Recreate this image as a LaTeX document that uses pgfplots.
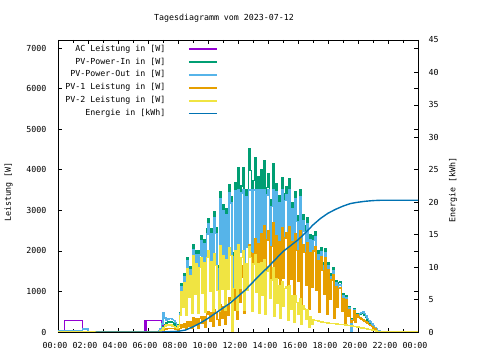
\documentclass[border=0pt]{standalone}
\usepackage{fontspec}
\usepackage{pgfplots}
\usepackage{pgfplotstable}
\pgfplotsset{compat=1.18}
\newfontfamily\gp{DejaVu Sans Mono}
\newcommand{\gpf}{\gp\fontsize{8.3bp}{10bp}\selectfont}
\definecolor{cac}{HTML}{9400D3}
\definecolor{cin}{HTML}{009E73}
\definecolor{cout}{HTML}{56B4E9}
\definecolor{cpa}{HTML}{E69F00}
\definecolor{cpb}{HTML}{F0E442}
\definecolor{cen}{HTML}{0072B2}
\pgfplotstableread{
t ac in out pa pb
0.00 0 0 25 0 0
0.42 280 0 25 0 0
1.62 0 0 70 0 0
2.00 0 0 10 0 0
5.75 280 0 10 0 0
5.83 40 0 10 0 0
5.92 280 0 10 0 0
6.70 280 0 30 0 0
6.80 280 20 80 10 20
6.90 0 60 200 30 50
7.0 470 120 470 50 100
7.1 350 180 350 60 150
7.2 300 220 300 70 170
7.3 320 250 320 80 180
7.4 330 260 330 80 170
7.5 340 250 340 90 180
7.6 310 240 310 90 150
7.7 280 200 280 80 130
7.8 230 150 230 70 110
7.9 160 120 160 80 100
8.0 166 175 166 38 150
8.1 447 470 447 85 400
8.2 1121 1180 1121 190 1000
8.3 675 710 675 105 600
8.4 1357 1428 1357 198 1204
8.5 451 475 451 63 400
8.6 1751 1843 1751 257 1568
8.7 941 990 941 145 850
8.8 1535 1616 1535 248 1400
8.9 489 515 489 83 450
9.0 2035 2142 2035 357 1887
9.1 1031 1085 1031 180 930
9.2 1915 2016 1915 333 1683
9.3 549 578 549 95 470
9.4 1899 1999 1899 328 1588
9.5 2258 2377 2258 388 1843
9.6 1197 1260 1197 210 960
9.7 2165 2279 2165 387 1707
9.8 632 665 632 115 490
9.9 2412 2539 2412 446 1841
10.0 2660 2800 2660 500 2000
10.1 1368 1440 1368 260 1005
10.2 2419 2546 2419 464 1737
10.3 722 760 722 140 508
10.4 2816 2964 2816 551 1938
10.5 2432 2560 2432 480 1640
10.6 1549 1630 1549 310 1030
10.7 789 830 789 160 518
10.8 3276 3448 3276 673 2122
10.9 1634 1720 1634 340 1045
11.0 2993 3150 2993 630 1890
11.1 846 890 846 185 528
11.2 2889 3041 2889 655 1781
11.3 1748 1840 1748 410 1065
11.4 3447 3628 3447 834 2076
11.5 3177 3344 3177 792 1892
11.6 600 0 0 0 0
11.7 1853 1950 1853 530 1075
11.8 3490 3674 3490 1060 2000
11.9 950 1000 950 305 538
12.0 3500 4050 3500 1300 2150
12.1 1957 2060 1957 720 1070
12.2 3423 3603 3423 1359 1832
12.3 3500 4047 3500 1634 2014
12.4 1029 1083 1029 465 528
12.5 3344 3520 3344 1600 1680
12.6 2095 2205 2095 1030 1040
12.7 3500 4508 3500 2162 2101
12.8 3500 3987 3500 1962 1836
12.9 1055 1110 1055 560 505
13.0 3500 3738 3500 1932 1680
13.1 3500 4287 3500 2289 1911
13.2 2085 2195 2085 1210 970
13.3 3500 3837 3500 2182 1681
13.4 1028 1083 1028 635 470
13.5 3500 3999 3500 2418 1721
13.6 2024 2130 2024 1305 910
13.7 3500 4220 3500 2620 1790
13.8 993 1045 993 658 440
13.9 3382 3560 3382 2270 1488
14.0 3500 3895 3500 2508 1615
14.1 1943 2045 1943 1320 825
14.2 3101 3264 3101 2112 1280
14.3 3500 4151 3500 2693 1581
14.4 964 1015 964 660 375
14.5 3463 3645 3463 2376 1305
14.6 1910 2010 1910 1320 705
14.7 3184 3352 3184 2218 1151
14.8 941 990 941 660 333
14.9 3500 3812 3500 2561 1251
15.0 1853 1950 1853 1320 625
15.1 3236 3406 3236 2314 1074
15.2 3392 3571 3392 2437 1107
15.3 905 953 905 653 290
15.4 3500 3780 3500 2605 1130
15.5 1781 1875 1781 1300 550
15.6 3031 3191 3031 2219 903
15.7 872 918 872 640 250
15.8 3276 3449 3276 2413 903
15.9 2728 2872 2728 2016 720
16.0 1686 1775 1686 1250 425
16.1 3333 3509 3333 2509 816
16.2 791 833 791 605 190
16.3 2753 2898 2753 2142 639
16.4 2482 2612 2482 1966 563
16.5 1425 1500 1425 1150 310
16.6 2682 2823 2682 2202 543
16.7 670 705 670 560 123
16.8 2282 2402 2282 1945 378
16.9 1254 1320 1254 1090 180
17.0 2253 2372 2253 2000 300
17.1 2356 2480 2356 2110 290
17.2 1145 1205 1145 1035 280
17.3 1912 2012 1912 1746 270
17.4 539 568 539 498 260
17.5 1986 2090 1986 1853 250
17.6 1626 1712 1626 1520 245
17.7 988 1040 988 925 240
17.8 1957 2060 1957 1836 235
17.9 466 490 466 438 225
18.0 1625 1710 1625 1530 220
18.1 860 905 860 810 215
18.2 1373 1445 1373 1285 210
18.3 1502 1581 1502 1407 210
18.4 366 385 366 340 205
18.5 1212 1276 1212 1126 200
18.6 656 690 656 610 195
18.7 1157 1218 1157 1070 190
18.8 1178 1240 1178 1090 190
18.9 556 585 556 510 185
19.0 899 946 899 826 180
19.1 242 255 242 223 175
19.2 848 893 848 789 170
19.3 409 430 409 380 160
19.4 593 624 593 552 155
19.5 250 300 0 250 150
19.6 304 320 304 285 145
19.7 551 580 551 520 140
19.8 247 260 247 235 130
19.9 437 460 437 420 125
20.0 400 420 400 370 120
20.1 450 430 450 345 110
20.2 480 450 480 320 100
20.3 490 460 490 300 95
20.4 450 420 450 275 85
20.5 390 360 390 250 80
20.6 340 300 340 220 70
20.7 290 250 290 190 60
20.8 250 200 250 160 55
20.9 200 150 200 130 45
21.0 150 100 150 100 40
21.1 110 60 110 70 30
21.2 70 30 70 40 20
21.3 40 10 40 10 10
21.4 20 0 20 0 0
21.5 10 0 10 0 0
24.0 10 0 10 0 0
}\pw
\pgfplotstableread{
t e
2.5 0
7.0 0
7.5 0.05
8.0 0.1
8.5 0.3
9.0 0.8
9.5 1.4
10.0 2.1
10.5 2.9
11.0 3.7
11.5 4.5
12.0 5.5
12.5 6.5
13.0 7.7
13.5 8.9
14.0 10.0
14.5 11.2
15.0 12.4
15.5 13.3
16.0 14.2
16.5 15.3
17.0 16.5
17.5 17.5
18.0 18.3
18.5 18.9
19.0 19.4
19.5 19.8
20.0 20.0
20.5 20.15
21.0 20.25
21.5 20.3
24.0 20.3
}\en
\begin{document}
\begin{tikzpicture}
\useasboundingbox (-58bp,-28bp) rectangle (422bp,332bp);
\begin{axis}[
  at={(0,0)}, anchor=south west,
  scale only axis, width=360bp, height=292bp,
  xmin=0, xmax=24, ymin=0, ymax=7200,
  xtick={0,2,...,24},
  xticklabels={00:00,02:00,04:00,06:00,08:00,10:00,12:00,14:00,16:00,18:00,20:00,22:00,00:00},
  minor xtick={1,3,...,23},
  ytick={0,1000,...,7000},
  tick align=inside,
  major tick length=4bp, minor tick length=3bp,
  xtick pos=both, ytick pos=both,
  axis line style={line width=0.8bp},
  every tick/.style={black, line width=0.6bp},
  /pgf/number format/assume math mode=true,
  /pgf/number format/1000 sep={},
  tick label style={font=\gpf},
  yticklabel style={xshift=-8bp},
  xticklabel style={xshift=-3bp, yshift=-7bp},
  legend style={at={(0.4444,0.983)}, anchor=north east, draw=none, fill=none,
    font=\gpf, inner sep=0pt, row sep=4.9bp, column sep=0pt,
    nodes={inner sep=0pt, text height=6bp, text depth=2bp}},
  legend cell align=right,
  legend plot pos=right,
  legend image code/.code={\path (0bp,0bp); \draw[#1,line width=1.6bp] plot coordinates {(23bp,0bp) (51bp,0bp)};},
  every axis plot/.append style={line width=1.4bp, const plot},
]
\addplot[color=cac] table[x=t,y=ac]{\pw};
\addlegendentry{AC Leistung in [W]}
\addplot[color=cin] table[x=t,y=in]{\pw};
\addlegendentry{PV-Power-In in [W]}
\addplot[color=cout] table[x=t,y=out]{\pw};
\addlegendentry{PV-Power-Out in [W]}
\addplot[color=cpa] table[x=t,y=pa]{\pw};
\addlegendentry{PV-1 Leistung in [W]}
\addplot[color=cpb] table[x=t,y=pb]{\pw};
\addlegendentry{PV-2 Leistung in [W]}
\addlegendimage{color=cen}
\addlegendentry{Energie in [kWh]}
\end{axis}
\begin{axis}[
  at={(0,0)}, anchor=south west,
  scale only axis, width=360bp, height=292bp,
  xmin=0, xmax=24, ymin=0, ymax=45,
  axis x line=none, axis y line*=right,
  ytick={0,5,...,45},
  tick align=inside, major tick length=4bp,
  axis line style={line width=0.8bp},
  every tick/.style={black, line width=0.6bp},
  /pgf/number format/assume math mode=true,
  tick label style={font=\gpf},
  yticklabel style={xshift=7bp},
]
\addplot[color=cen, line width=1.4bp, sharp plot] table[x=t,y=e]{\en};
\end{axis}
\node[font=\gpf] at (166bp,314bp) {Tagesdiagramm vom 2023-07-12};
\node[font=\gpf, rotate=90] at (-49.5bp,140bp) {Leistung [W]};
\node[font=\gpf, rotate=90] at (395bp,142bp) {Energie [kWh]};
\end{tikzpicture}
\end{document}
